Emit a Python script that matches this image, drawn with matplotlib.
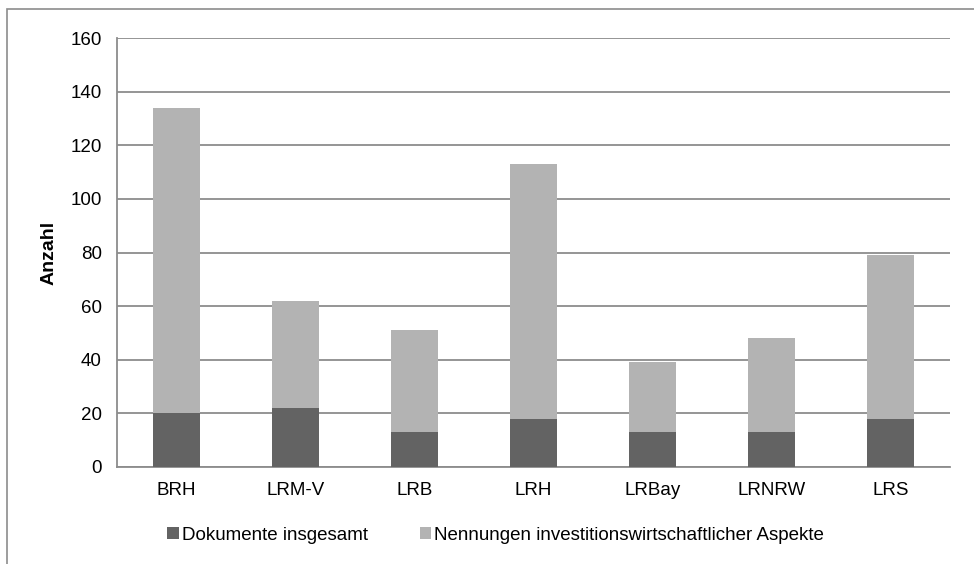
import matplotlib.pyplot as plt
from matplotlib.patches import Rectangle

plt.rcParams['font.family'] = ['Liberation Sans', 'DejaVu Sans']

pruefer = ['BRH', 'LRM-V', 'LRB', 'LRH', 'LRBay', 'LRNRW', 'LRS']
dokumente = [20, 22, 13, 18, 13, 13, 18]
nennungen = [114, 40, 38, 95, 26, 35, 61]

dark = '#636363'
light = '#b3b3b3'
grid_col = '#8c8c8c'

fig = plt.figure(figsize=(9.74, 5.64), dpi=100)
ax = fig.add_axes([0.1201, 0.172, 0.8553, 0.7606])

# chart frame
fig.patches.append(Rectangle((7 / 974, -0.1), 1.2, 1 - 9 / 564 + 0.1,
                             transform=fig.transFigure, fill=False,
                             edgecolor='#8c8c8c', linewidth=1.2, zorder=0))

x = range(len(pruefer))
ax.bar(x, dokumente, width=0.395, color=dark, label='Dokumente insgesamt', zorder=3)
ax.bar(x, nennungen, width=0.395, bottom=dokumente, color=light,
       label='Nennungen investitionswirtschaftlicher Aspekte', zorder=3)

ax.set_xlim(-0.5, len(pruefer) - 0.5)
ax.set_ylim(0, 160)
ax.set_yticks(range(0, 161, 20))
ax.set_xticks(list(x))
ax.set_xticklabels(pruefer)
ax.yaxis.grid(True, color=grid_col, linewidth=1.3, zorder=0)
ax.set_axisbelow(True)
ax.tick_params(length=0, labelsize=13.5, colors='black')
ax.tick_params(axis='x', pad=11)
ax.tick_params(axis='y', pad=11)
for side in ['top', 'right']:
    ax.spines[side].set_visible(False)
for side in ['left', 'bottom']:
    ax.spines[side].set_color(grid_col)
    ax.spines[side].set_linewidth(1.3)

ax.set_ylabel('Anzahl', fontsize=14, fontweight='bold')
ax.yaxis.set_label_coords(-0.071, 0.5)

fig.legend(loc='center', bbox_to_anchor=(0.509, 1 - 535 / 564), ncol=2,
           frameon=False, fontsize=13.5, handlelength=0.6, handleheight=0.6,
           handletextpad=0.16, columnspacing=2.8)

fig.savefig('out.png', dpi=100)
